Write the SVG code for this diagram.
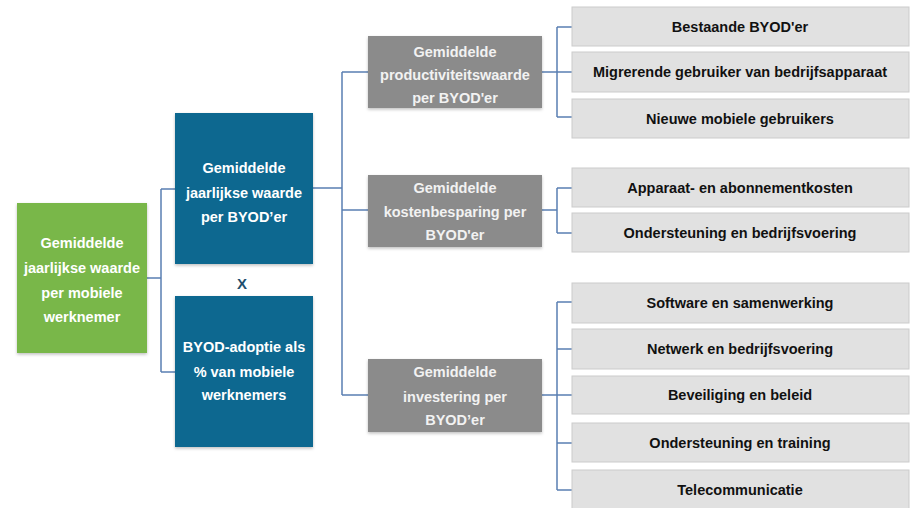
<svg xmlns="http://www.w3.org/2000/svg" width="912" height="508" viewBox="0 0 912 508">
<defs>
<filter id="sh" x="-10%" y="-10%" width="120%" height="125%">
<feDropShadow dx="0" dy="1.5" stdDeviation="1.5" flood-color="#000" flood-opacity="0.25"/>
</filter>
</defs>
<style>
.green{fill:#79b74a;filter:url(#sh)}
.blue{fill:#0e6890;filter:url(#sh)}
.gray{fill:#8b8b8b;filter:url(#sh)}
.light{fill:#e1e1e1;stroke:#cbcbcb;stroke-width:1}
.wt{fill:#fff;font-family:"Liberation Sans",Arial,sans-serif;font-weight:bold;font-size:14.5px;text-anchor:middle}
.gt{fill:#f2f2f2;font-family:"Liberation Sans",Arial,sans-serif;font-weight:bold;font-size:14.5px;text-anchor:middle}
.dt{fill:#111;font-family:"Liberation Sans",Arial,sans-serif;font-weight:bold;font-size:14.5px;text-anchor:middle}
.conn{fill:none;stroke:#5a7fb2;stroke-width:1.5}
</style>
<rect width="912" height="508" fill="#fff"/>
<g id="connectors">
<path class="conn" d="M147 278H161M161 189V372M161 189H175M161 372H175"/>
<path class="conn" d="M313 188H342M342 72V395M342 72H368M342 210H368M342 395H368"/>
<path class="conn" d="M542 72H572M557 27V117M557 27H572M557 117H572"/>
<path class="conn" d="M542 210H557M557 188V233M557 188H572M557 233H572"/>
<path class="conn" d="M542 395H572M557 302V490M557 302H572M557 349H572M557 443H572M557 490H572"/>
</g>
<g id="node-green">
<rect class="green" x="17" y="203" width="130" height="150"/>
<text class="wt"><tspan x="82" y="248">Gemiddelde</tspan><tspan x="82" y="273">jaarlijkse waarde</tspan><tspan x="82" y="298">per mobiele</tspan><tspan x="82" y="322">werknemer</tspan></text>
</g>
<g id="node-blue-top">
<rect class="blue" x="175" y="113" width="138" height="151"/>
<text class="wt"><tspan x="244" y="173">Gemiddelde</tspan><tspan x="244" y="198">jaarlijkse waarde</tspan><tspan x="244" y="222">per BYOD’er</tspan></text>
</g>
<g id="node-x">
<text x="242" y="289" fill="#1f4f6e" font-family="'Liberation Sans',Arial,sans-serif" font-weight="bold" font-size="15" text-anchor="middle">X</text>
</g>
<g id="node-blue-bottom">
<rect class="blue" x="175" y="296" width="138" height="151"/>
<text class="wt"><tspan x="244" y="352">BYOD-adoptie als</tspan><tspan x="244" y="377">% van mobiele</tspan><tspan x="244" y="400">werknemers</tspan></text>
</g>
<g id="node-prod">
<rect class="gray" x="368" y="36" width="174" height="72"/>
<text class="gt"><tspan x="455" y="57">Gemiddelde</tspan><tspan x="455" y="80">productiviteitswaarde</tspan><tspan x="455" y="103">per BYOD'er</tspan></text>
</g>
<g id="node-kosten">
<rect class="gray" x="368" y="175" width="174" height="72"/>
<text class="gt"><tspan x="455" y="193">Gemiddelde</tspan><tspan x="455" y="217">kostenbesparing per</tspan><tspan x="455" y="240">BYOD'er</tspan></text>
</g>
<g id="node-invest">
<rect class="gray" x="368" y="359" width="174" height="73"/>
<text class="gt"><tspan x="455" y="377">Gemiddelde</tspan><tspan x="455" y="402">investering per</tspan><tspan x="455" y="425">BYOD’er</tspan></text>
</g>
<g id="node-l1"><rect class="light" x="572" y="7" width="337" height="39"/><text class="dt" x="740" y="32">Bestaande BYOD'er</text></g>
<g id="node-l2"><rect class="light" x="572" y="52" width="337" height="40"/><text class="dt" x="740" y="77">Migrerende gebruiker van bedrijfsapparaat</text></g>
<g id="node-l3"><rect class="light" x="572" y="99" width="337" height="39"/><text class="dt" x="740" y="124">Nieuwe mobiele gebruikers</text></g>
<g id="node-l4"><rect class="light" x="572" y="168" width="337" height="39"/><text class="dt" x="740" y="193">Apparaat- en abonnementkosten</text></g>
<g id="node-l5"><rect class="light" x="572" y="213" width="337" height="39"/><text class="dt" x="740" y="238">Ondersteuning en bedrijfsvoering</text></g>
<g id="node-l6"><rect class="light" x="572" y="283" width="337" height="40"/><text class="dt" x="740" y="308">Software en samenwerking</text></g>
<g id="node-l7"><rect class="light" x="572" y="329" width="337" height="40"/><text class="dt" x="740" y="354">Netwerk en bedrijfsvoering</text></g>
<g id="node-l8"><rect class="light" x="572" y="376" width="337" height="38"/><text class="dt" x="740" y="400">Beveiliging en beleid</text></g>
<g id="node-l9"><rect class="light" x="572" y="423" width="337" height="39"/><text class="dt" x="740" y="448">Ondersteuning en training</text></g>
<g id="node-l10"><rect class="light" x="572" y="470" width="337" height="40"/><text class="dt" x="740" y="495">Telecommunicatie</text></g>
</svg>
